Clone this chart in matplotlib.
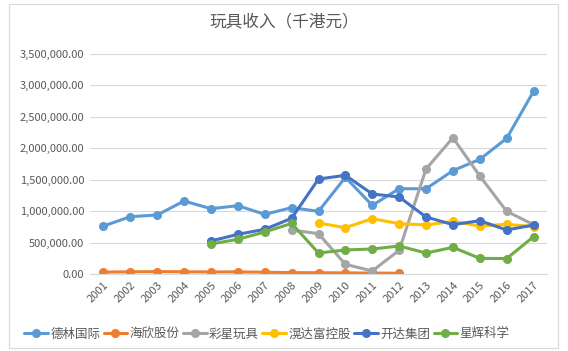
import matplotlib
matplotlib.use("Agg")
import matplotlib.pyplot as plt
from matplotlib.patches import Rectangle
from matplotlib.ticker import FuncFormatter, MultipleLocator
import numpy as np

plt.rcParams['font.family'] = ['Noto Sans CJK SC', 'DejaVu Sans']

years = [str(y) for y in range(2001, 2018)]

delin = [763000, 912000, 939000, 1161000, 1039000, 1087000, 949000, 1055000,
         997000, 1538000, 1092000, 1357000, 1357000, 1644000, 1824000, 2158000, 2906000]
haixin = [30000, 35000, 38000, 35000, 33000, 34000, 28000, 22000, 20000, 18000, 15000, 12000,
          None, None, None, None, None]
caixing = [None] * 7 + [700000, 641000, 154000, 48000, 377000, 1670000, 2168000, 1559000, 997000, 785000]
huangda = [None] * 8 + [811000, 737000, 880000, 801000, 780000, 838000, 763000, 790000, 753000]
kaida = [None] * 4 + [525000, 631000, 711000, 886000, 1511000, 1570000, 1273000, 1225000,
                      907000, 785000, 848000, 700000, 780000]
green = [None] * 4 + [477000, 552000, 668000, 805000, 334000, 382000, 398000, 445000,
                      334000, 424000, 249000, 245000, 594000]

series_names = ['德林国际', '海欣股份', '彩星玩具', '滉达富控股', '开达集团', '星辉科学']
series_values = [delin, haixin, caixing, huangda, kaida, green]
colors = ['#5B9BD5', '#ED7D31', '#A5A5A5', '#FFC000', '#4472C4', '#70AD47']

fig = plt.figure(figsize=(5.68, 3.51), dpi=100)
ax = fig.add_axes([90/568, 1 - 274/351, 457/568, 220/351])

x = np.arange(len(years))
for name, vals, c in zip(series_names, series_values, colors):
    v = np.array([np.nan if a is None else a for a in vals], dtype=float)
    ax.plot(x, v, color=c, lw=2.2, marker='o', ms=5.5, label=name, solid_capstyle='round')

ax.set_xlim(-0.5, len(years) - 0.5)
ax.set_ylim(0, 3500000)
ax.yaxis.set_major_locator(MultipleLocator(500000))
ax.yaxis.set_major_formatter(FuncFormatter(lambda v, p: f"{v:,.2f}"))
ax.grid(axis='y', color='#D9D9D9', lw=0.8)
ax.set_axisbelow(True)
for s in ['top', 'right', 'left']:
    ax.spines[s].set_visible(False)
ax.spines['bottom'].set_color('#D9D9D9')
ax.set_xticks(x)
ax.set_xticklabels(years, rotation=45, ha='right', rotation_mode='anchor')
ax.tick_params(axis='both', length=0, labelsize=8, colors='#595959', pad=4)

fig.text(0.5, 1 - 22/351, '玩具收入（千港元）', ha='center', va='center', fontsize=12, color='#595959')

leg = fig.legend(loc='center', bbox_to_anchor=(0.47, 1 - 334/351), ncol=6, frameon=False,
                 fontsize=9, handlelength=1.9, handletextpad=0.2, columnspacing=0.25,
                 labelcolor='#595959')

fig.patches.append(Rectangle((9/568, 3/351), 549/568, 344/351, transform=fig.transFigure,
                             fill=False, edgecolor='#D9D9D9', lw=0.8))

fig.savefig('out.png', dpi=100)
